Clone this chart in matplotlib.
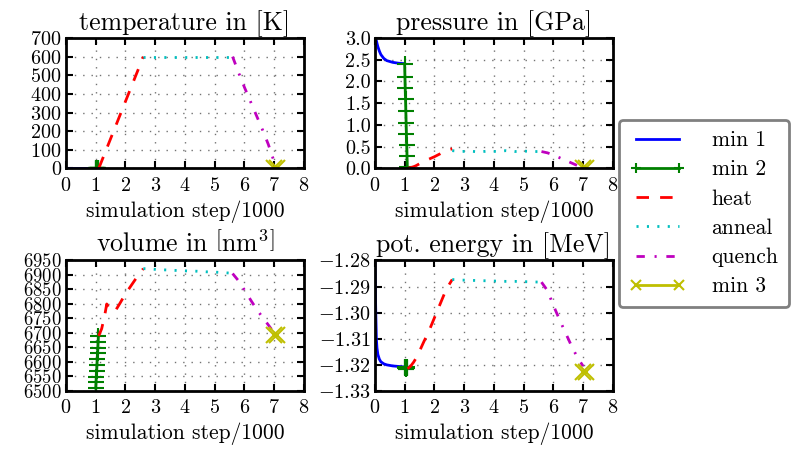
import numpy as np
import matplotlib.pyplot as plt
from matplotlib.ticker import MultipleLocator

#%% style, old-school matplotlib look with computer modern
plt.rcParams.update({
    'font.family': 'cmr10',
    'mathtext.fontset': 'cm',
    'axes.formatter.use_mathtext': True,
    'font.size': 15.5,
    'xtick.labelsize': 14.5, 'ytick.labelsize': 14.5,
    'axes.linewidth': 2,
    'lines.scale_dashes': False,
    'xtick.direction': 'in', 'ytick.direction': 'in',
    'xtick.top': True, 'ytick.right': True,
    'xtick.major.size': 5, 'ytick.major.size': 5,
    'xtick.major.width': 1.5, 'ytick.major.width': 1.5,
    'xtick.major.pad': 6, 'ytick.major.pad': 3,
})

#%% data, x = simulation step / 1000
x_min1 = [0.0, 0.03, 0.05, 0.07, 0.1, 0.15, 0.2, 0.3, 0.4, 0.6, 0.8, 1.0]
temp_min1 = [0, 0, 0, 0, 0, 0, 0, 0, 0, 0, 0, 0]
press_min1 = [3.0, 2.98, 2.94, 2.88, 2.80, 2.70, 2.62, 2.53, 2.48, 2.44, 2.42, 2.41]
vol_min1 = [6380, 6400, 6415, 6425, 6435, 6445, 6452, 6460, 6465, 6470, 6473, 6475]
ener_min1 = [-1.280, -1.300, -1.310, -1.3135, -1.3160, -1.3178, -1.3188, -1.3196,
             -1.3200, -1.3204, -1.3206, -1.3208]

x_min2 = [1.00, 1.01, 1.02, 1.03, 1.04, 1.05, 1.06, 1.07, 1.08, 1.09]
temp_min2 = [0, 0, 0, 0, 0, 0, 0, 0, 0, 0]
press_min2 = [2.40, 2.11, 1.85, 1.59, 1.32, 1.05, 0.80, 0.53, 0.28, 0.03]
vol_min2 = [6510, 6530, 6549, 6570, 6590, 6609, 6630, 6649, 6669, 6689]
ener_min2 = [-1.3208, -1.3210, -1.3212, -1.3213, -1.3214, -1.3214, -1.3213,
             -1.3212, -1.3211, -1.3210]

x_heat = [1.1, 1.2, 1.3, 1.37, 1.45, 1.55, 1.65, 1.8, 2.0, 2.2, 2.4, 2.6]
temp_heat = [0, 40, 80, 108, 140, 180, 220, 280, 360, 440, 520, 600]
press_heat = [0.0, 0.02, 0.04, 0.06, 0.09, 0.13, 0.17, 0.21, 0.27, 0.34, 0.42, 0.45]
vol_heat = [6690, 6715, 6760, 6800, 6785, 6776, 6775, 6800, 6835, 6865, 6895, 6922]
ener_heat = [-1.3215, -1.3205, -1.3190, -1.3177, -1.3160, -1.3135, -1.3110,
             -1.3075, -1.3020, -1.2965, -1.2910, -1.2873]

x_anneal = [2.6, 2.9, 3.2, 3.5, 3.8, 4.1, 4.4, 4.7, 5.0, 5.3, 5.6]
temp_anneal = [600, 600, 600, 600, 600, 600, 600, 600, 600, 600, 600]
press_anneal = [0.41, 0.39, 0.40, 0.38, 0.40, 0.39, 0.41, 0.39, 0.40, 0.39, 0.39]
vol_anneal = [6922, 6920, 6918, 6917, 6915, 6914, 6913, 6911, 6910, 6908, 6906]
ener_anneal = [-1.2873, -1.2875, -1.2876, -1.2877, -1.2878, -1.2879, -1.2880,
               -1.2880, -1.2881, -1.2882, -1.2883]

x_quench = [5.6, 5.8, 6.0, 6.2, 6.4, 6.6, 6.8, 7.0]
temp_quench = [600, 515, 435, 360, 285, 210, 130, 35]
press_quench = [0.39, 0.36, 0.31, 0.25, 0.19, 0.13, 0.07, 0.02]
vol_quench = [6905, 6880, 6848, 6815, 6783, 6755, 6728, 6700]
ener_quench = [-1.2883, -1.2915, -1.2972, -1.3025, -1.3075, -1.3125, -1.3170, -1.3205]

x_min3 = [7.0, 7.1]
temp_min3 = [0, 0]
press_min3 = [0.0, 0.0]
vol_min3 = [6692, 6692]
ener_min3 = [-1.3226, -1.3226]

labels = ['min 1', 'min 2', 'heat', 'anneal', 'quench', 'min 3']

#%% figure
fig, axs = plt.subplots(2, 2, figsize=(7.98, 4.54), dpi=100)
fig.subplots_adjust(left=0.0827, right=0.768, bottom=0.1388, top=0.9163,
                    wspace=0.298, hspace=0.705)

panels = [
    (axs[0, 0], 'temperature in [K]',
     [temp_min1, temp_min2, temp_heat, temp_anneal, temp_quench, temp_min3], (0, 700), 100),
    (axs[0, 1], 'pressure in [GPa]',
     [press_min1, press_min2, press_heat, press_anneal, press_quench, press_min3], (0, 3.0), 0.5),
    (axs[1, 0], r'volume in $\left[\mathrm{nm}^3\right]$',
     [vol_min1, vol_min2, vol_heat, vol_anneal, vol_quench, vol_min3], (6500, 6950), 50),
    (axs[1, 1], 'pot. energy in [MeV]',
     [ener_min1, ener_min2, ener_heat, ener_anneal, ener_quench, ener_min3], (-1.33, -1.28), 0.01),
]

xs = [x_min1, x_min2, x_heat, x_anneal, x_quench, x_min3]

for ax, title, ys, ylim, step in panels:
    ax.plot(xs[0], ys[0], color='b', lw=2, label=labels[0])
    ax.plot(xs[1], ys[1], color='g', lw=2, marker='+', ms=11, mew=1.5, label=labels[1])
    ax.plot(xs[2], ys[2], color='r', lw=2, dashes=(9, 8), label=labels[2])
    ax.plot(xs[3], ys[3], color='c', lw=2, dashes=(1.5, 6), label=labels[3])
    ax.plot(xs[4], ys[4], color='m', lw=2, dashes=(6, 7, 1.5, 7), label=labels[4])
    ax.plot(xs[5], ys[5], color='y', lw=2, marker='x', ms=12, mew=1.5, label=labels[5])
    ax.set_title(title)
    ax.set_xlim(0, 8)
    ax.set_ylim(ylim)
    ax.xaxis.set_major_locator(MultipleLocator(1))
    ax.yaxis.set_major_locator(MultipleLocator(step))
    ax.grid(True, color='0.45', lw=1, dashes=(1, 5))
    ax.set_xlabel('simulation step/1000')

axs[0, 1].yaxis.set_major_formatter(plt.FormatStrFormatter('%.1f'))
# volume labels sit very tight, like in the original
axs[1, 0].tick_params(axis='y', labelsize=13.5)

handles, labs = axs[0, 0].get_legend_handles_labels()
leg = fig.legend(handles, labs, loc='upper left', bbox_to_anchor=(619 / 798, 1 - 120 / 454),
                 numpoints=2, markerscale=0.6, fancybox=True, handlelength=2.6,
                 handletextpad=1.2, labelspacing=0.45, borderpad=0.5, borderaxespad=0,
                 framealpha=1)
leg.get_frame().set_edgecolor('0.5')
leg.get_frame().set_linewidth(2)

plt.savefig('out.png', dpi=100)
